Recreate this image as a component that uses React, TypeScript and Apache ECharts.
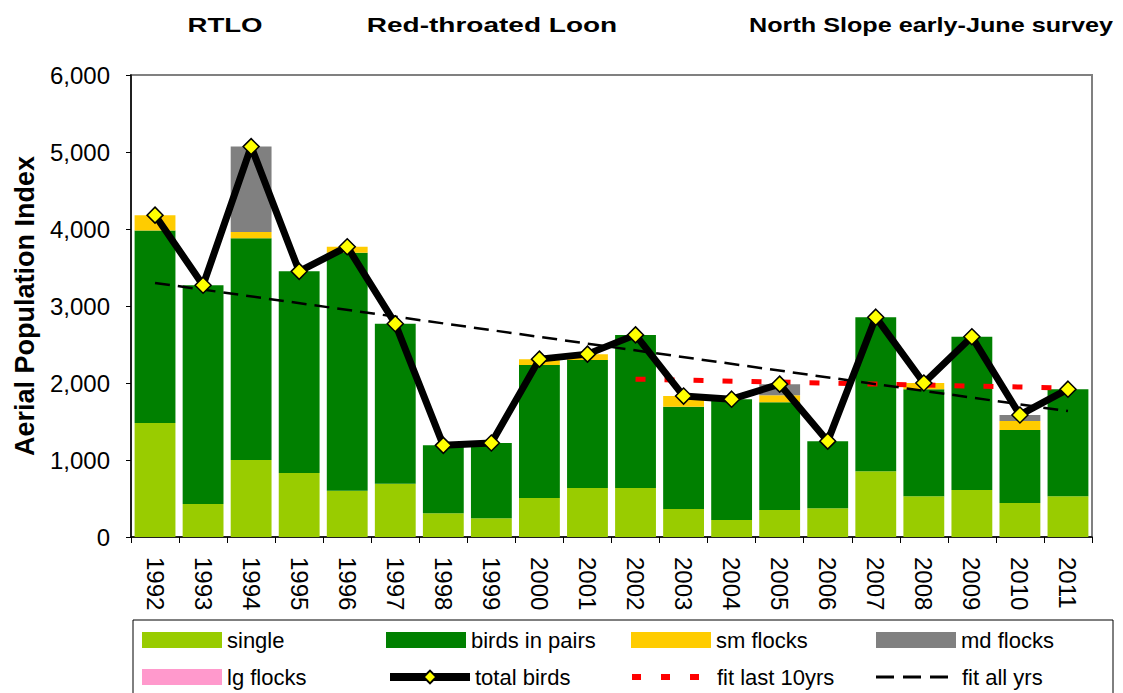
import React, { useEffect, useRef } from "react";
import * as echarts from "echarts";

const years = ["1992","1993","1994","1995","1996","1997","1998","1999","2000","2001","2002","2003","2004","2005","2006","2007","2008","2009","2010","2011"];
const single = [1480, 430, 1000, 830, 600, 690, 310, 245, 505, 635, 635, 365, 220, 350, 375, 855, 530, 610, 440, 530];
const pairs = [2500, 2840, 2880, 2620, 3090, 2080, 880, 975, 1730, 1665, 1990, 1325, 1570, 1400, 870, 2000, 1390, 1990, 950, 1390];
const smFlocks = [200, 0, 80, 0, 80, 0, 0, 0, 75, 75, 0, 140, 0, 90, 0, 0, 80, 0, 115, 0];
const mdFlocks = [0, 0, 1110, 0, 0, 0, 0, 0, 0, 0, 0, 0, 0, 145, 0, 0, 0, 0, 80, 0];
const lgFlocks = [0, 0, 0, 0, 0, 0, 0, 0, 0, 0, 0, 0, 0, 0, 0, 0, 0, 0, 0, 0];
const totalBirds = [4180, 3270, 5070, 3450, 3770, 2770, 1190, 1220, 2310, 2375, 2625, 1830, 1790, 1985, 1245, 2855, 2000, 2600, 1585, 1920];
// trend line endpoints: [category index, value]
const fitLast10 = [[10, 2050], [19, 1935]];
const fitAll = [[0, 3300], [19, 1635]];
const yTicks = { min: 0, max: 6000, interval: 1000 };
const titles = ["RTLO", "Red-throated Loon", "North Slope early-June survey"];

const FONT = "'Liberation Sans', Arial, sans-serif";

export default function App() {
  const ref = useRef<HTMLDivElement>(null);
  useEffect(() => {
    document.body.style.margin = "0";
    const chart = echarts.init(ref.current!, null, { renderer: "svg" });
    const legendText = { fontSize: 22, color: "#000", fontFamily: FONT };
    const mkLegend = (name: string, left: number, top: number, extra: any = {}) => ({
      data: [name],
      left,
      top,
      orient: "horizontal",
      padding: 0,
      itemWidth: 80,
      itemHeight: 16,
      itemGap: 0,
      textStyle: legendText,
      selectedMode: false,
      ...extra,
    });
    const barBase = { type: "bar", stack: "total", barCategoryGap: "15%", emphasis: { disabled: true } };
    const titleX = [225, 492, 931];
    const titleScale = [1.38, 1.4, 1.26];
    const row1 = 629;
    const row2 = 666;
    chart.setOption({
      animation: false,
      backgroundColor: "#fff",
      textStyle: { fontFamily: FONT },
      grid: { left: 131, top: 75, right: 31, bottom: 156, show: true, borderColor: "#808080", borderWidth: 2, backgroundColor: "transparent" },
      xAxis: {
        type: "category",
        data: years,
        axisLine: { lineStyle: { color: "#000", width: 1.5 } },
        axisTick: { show: true, length: 6, lineStyle: { color: "#000" } },
        axisLabel: { rotate: -90, fontSize: 24, color: "#000", margin: 20, fontFamily: FONT },
      },
      yAxis: {
        type: "value",
        min: yTicks.min,
        max: yTicks.max,
        interval: yTicks.interval,
        name: "Aerial Population Index",
        nameLocation: "middle",
        nameRotate: 90,
        nameGap: 93,
        nameTextStyle: { fontSize: 27, fontWeight: "bold", color: "#000", fontFamily: FONT },
        axisLine: { show: true, lineStyle: { color: "#000", width: 1.5 } },
        axisTick: { show: true, length: 5, lineStyle: { color: "#000" } },
        axisLabel: { fontSize: 24, color: "#000", margin: 21, fontFamily: FONT },
        splitLine: { show: false },
      },
      legend: [
        mkLegend("single", 142, row1, { icon: "rect" }),
        mkLegend("birds in pairs", 386, row1, { icon: "rect" }),
        mkLegend("sm flocks", 631, row1, { icon: "rect" }),
        mkLegend("md flocks", 876, row1, { icon: "rect" }),
        mkLegend("lg flocks", 142, row2, { icon: "rect" }),
        mkLegend("total birds", 386, row2, { lineStyle: { width: 8 } }),
        mkLegend("fit last 10yrs", 632, row2, {
          icon: "path://M0,0h9v6h-9z M29,0h9v6h-9z M58,0h9v6h-9z",
          itemWidth: 67,
          itemHeight: 6,
          textStyle: { ...legendText, padding: [0, 0, 0, 13] },
        }),
        mkLegend("fit all yrs", 876, row2, {
          icon: "path://M0,0h18v3h-18z M27,0h18v3h-18z M54,0h18v3h-18z",
          itemWidth: 72,
          itemHeight: 3,
          textStyle: { ...legendText, padding: [0, 0, 0, 9] },
        }),
      ],
      graphic: [
        { type: "rect", shape: { x: 133, y: 620, width: 980, height: 90 }, style: { fill: "none", stroke: "#000", lineWidth: 1 }, z: -1 },
        ...titles.map((t, i) => ({
          type: "text",
          x: titleX[i],
          y: 25,
          scaleX: titleScale[i],
          style: { text: t, font: `bold 20px ${FONT}`, fill: "#000", textAlign: "center", textVerticalAlign: "middle" },
        })),
      ],
      series: [
        { ...barBase, name: "single", data: single, itemStyle: { color: "#99CC00" } },
        { ...barBase, name: "birds in pairs", data: pairs, itemStyle: { color: "#008000" } },
        { ...barBase, name: "sm flocks", data: smFlocks, itemStyle: { color: "#FFCC00" } },
        { ...barBase, name: "md flocks", data: mdFlocks, itemStyle: { color: "#808080" } },
        { ...barBase, name: "lg flocks", data: lgFlocks, itemStyle: { color: "#FF99CC" } },
        {
          name: "fit last 10yrs",
          type: "line",
          data: fitLast10,
          symbol: "none",
          z: 3,
          lineStyle: { color: "#FF0000", width: 5, type: [10, 19] },
          itemStyle: { color: "#FF0000" },
          emphasis: { disabled: true },
        },
        {
          name: "fit all yrs",
          type: "line",
          data: fitAll,
          symbol: "none",
          z: 4,
          lineStyle: { color: "#000", width: 2.5, type: [15, 8] },
          itemStyle: { color: "#000" },
          emphasis: { disabled: true },
        },
        {
          name: "total birds",
          type: "line",
          data: totalBirds,
          symbol: "diamond",
          symbolSize: 16,
          z: 5,
          lineStyle: { color: "#000", width: 7 },
          itemStyle: { color: "#FFFF00", borderColor: "#000", borderWidth: 1.5 },
          emphasis: { disabled: true },
        },
      ],
    });
    return () => chart.dispose();
  }, []);
  return <div ref={ref} style={{ width: 1123, height: 693 }} />;
}
